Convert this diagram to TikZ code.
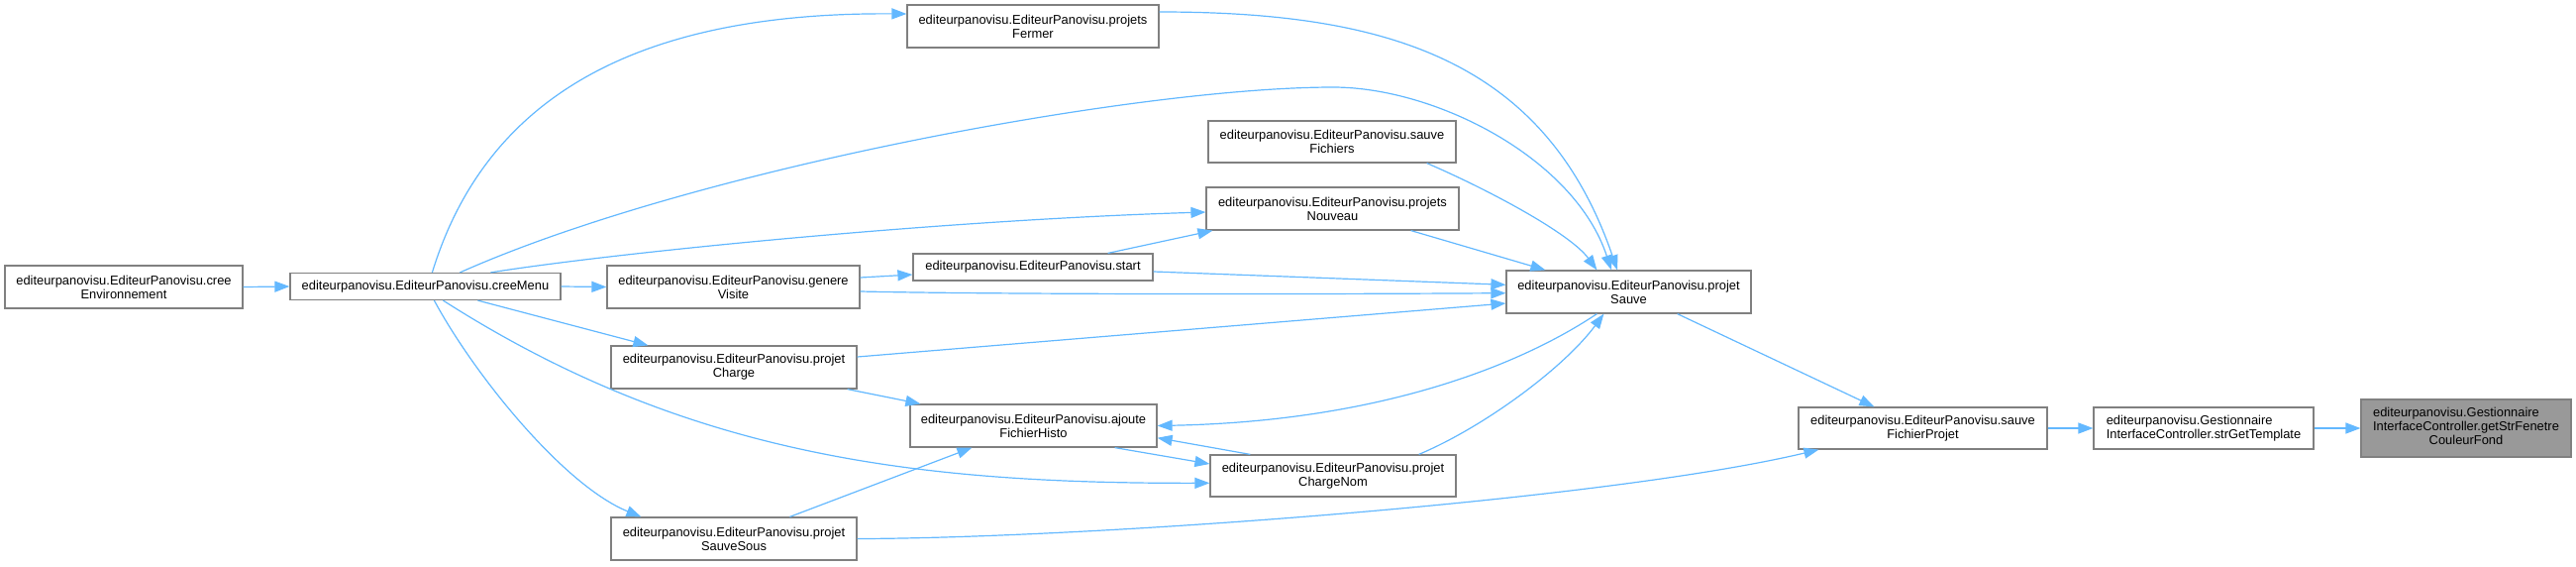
\documentclass[tikz,border=0pt]{standalone}
\usepackage{fontspec}
\setmainfont{Liberation Sans}
\usetikzlibrary{arrows.meta}
\definecolor{edgec}{HTML}{63B8FF}
\definecolor{bordc}{HTML}{808080}
\definecolor{rootc}{HTML}{999999}
\begin{document}
\begin{tikzpicture}[x=1pt,y=-1pt,
  box/.style={draw=bordc, line width=1.2pt, fill=white, inner sep=0pt, align=center,
    minimum height=43pt, font=\fontsize{12.9}{14}\selectfont},
  edge/.style={draw=edgec, line width=1.2pt, -{Triangle[length=15pt,width=11pt]}}]
\useasboundingbox (0,0) rectangle (2601,571);
% nodes
\node[box, minimum width=240pt] (env) at (125,289.5) {editeurpanovisu.EditeurPanovisu.cree\\Environnement};
\node[box, minimum width=273pt, minimum height=27pt] (menu) at (429.5,289) {editeurpanovisu.EditeurPanovisu.creeMenu};
\node[box, minimum width=254pt] (fermer) at (1043,26.5) {editeurpanovisu.EditeurPanovisu.projets\\Fermer};
\node[box, minimum width=250pt, minimum height=42pt] (sauveF) at (1345,143) {editeurpanovisu.EditeurPanovisu.sauve\\Fichiers};
\node[box, minimum width=255pt] (nouveau) at (1345.5,210.5) {editeurpanovisu.EditeurPanovisu.projets\\Nouveau};
\node[box, minimum width=242pt, minimum height=27pt] (start) at (1043,269.5) {editeurpanovisu.EditeurPanovisu.start};
\node[box, minimum width=255pt] (genere) at (740.5,289.5) {editeurpanovisu.EditeurPanovisu.genere\\Visite};
\node[box, minimum width=247pt] (psauve) at (1644.5,294.5) {editeurpanovisu.EditeurPanovisu.projet\\Sauve};
\node[box, minimum width=248pt] (charge) at (741,370.5) {editeurpanovisu.EditeurPanovisu.projet\\Charge};
\node[box, minimum width=249pt] (ajoute) at (1043.5,429.5) {editeurpanovisu.EditeurPanovisu.ajoute\\FichierHisto};
\node[box, minimum width=248pt, minimum height=42pt] (chargeNom) at (1346,480) {editeurpanovisu.EditeurPanovisu.projet\\ChargeNom};
\node[box, minimum width=248pt] (sauveSous) at (741,543.5) {editeurpanovisu.EditeurPanovisu.projet\\SauveSous};
\node[box, minimum width=251pt, minimum height=42pt] (sfp) at (1941.5,432) {editeurpanovisu.EditeurPanovisu.sauve\\FichierProjet};
\node[box, minimum width=222pt, minimum height=42pt, align=left] (strGet) at (2225,432) {editeurpanovisu.Gestionnaire\\InterfaceController.strGetTemplate};
\node[box, fill=rootc, minimum width=212pt, minimum height=58pt] (getStr) at (2490,432)
  {\renewcommand{\arraystretch}{1}\setlength{\tabcolsep}{0pt}\begin{tabular}{l}editeurpanovisu.Gestionnaire\\InterfaceController.getStrFenetre\\\multicolumn{1}{c}{CouleurFond}\end{tabular}};
% edges
\draw[edge] (env.east) -- (menu.west);
\draw[edge] ([xshift=144pt]menu.north west) .. controls (490,100) and (640,12) .. ([yshift=12.5pt]fermer.west);
\draw[edge] ([xshift=172pt]menu.north west) .. controls (700,170) and (1150,88) .. (1346,88) .. controls (1450,88) and (1590,160) .. ([xshift=-17.5pt]psauve.north);
\draw[edge] ([yshift=14.5pt]fermer.east) .. controls (1400,12) and (1560,60) .. ([xshift=-11.5pt]psauve.north);
\draw[edge] ([xshift=203pt]menu.north west) .. controls (620,255) and (950,222) .. ([yshift=-3.5pt]nouveau.west);
\draw[edge] ([xshift=-46pt]start.north east) -- ([xshift=7pt]nouveau.south west);
\draw[edge] ([xshift=-49pt]nouveau.south east) -- ([xshift=40pt]psauve.north west);
\draw[edge] ([xshift=-30pt]sauveF.south east) .. controls (1500,190) and (1585,235) .. ([xshift=92pt]psauve.north west);
\draw[edge] (menu.east) -- (genere.west);
\draw[edge] ([yshift=9.5pt]genere.east) -- ([yshift=-7.5pt]start.west);
\draw[edge] ([yshift=-4.5pt]genere.east) .. controls (1000,297) and (1300,297) .. ([yshift=-1.2pt]psauve.west);
\draw[edge] ([yshift=-4.5pt]start.east) -- ([yshift=7.2pt]psauve.west);
\draw[edge] ([xshift=190pt]menu.south west) -- ([xshift=38pt]charge.north west);
\draw[edge] ([yshift=10.5pt]charge.east) -- ([yshift=-11.5pt]psauve.west);
\draw[edge] ([xshift=-10pt]charge.south east) -- ([xshift=11pt]ajoute.north west);
\draw[edge] ([xshift=155pt]menu.south west) .. controls (690,458) and (920,488) .. ([yshift=-7.3pt]chargeNom.west);
\draw[edge] ([xshift=146pt]menu.south west) .. controls (480,380) and (570,490) .. ([xshift=31pt]sauveSous.north west);
\draw[edge] ([xshift=181pt]sauveSous.north west) -- ([xshift=63pt]ajoute.south west);
\draw[edge] ([xshift=-43pt]ajoute.south east) -- ([yshift=12pt]chargeNom.west);
\draw[edge] ([xshift=41pt]chargeNom.north west) -- ([yshift=-12.2pt]ajoute.east);
\draw[edge] ([xshift=92pt]psauve.south west) .. controls (1540,365) and (1400,425) .. (ajoute.east);
\draw[edge] ([xshift=-38pt]chargeNom.north east) .. controls (1500,430) and (1580,370) .. ([xshift=99pt]psauve.south west);
\draw[edge] ([xshift=-75pt]psauve.south east) -- ([xshift=77pt]sfp.north west);
\draw[edge] (sauveSous.east) .. controls (1100,543) and (1620,505) .. ([xshift=21pt]sfp.south west);
\draw[edge] (sfp.east) -- (strGet.west);
\draw[edge] (strGet.east) -- (getStr.west);
\end{tikzpicture}
\end{document}
